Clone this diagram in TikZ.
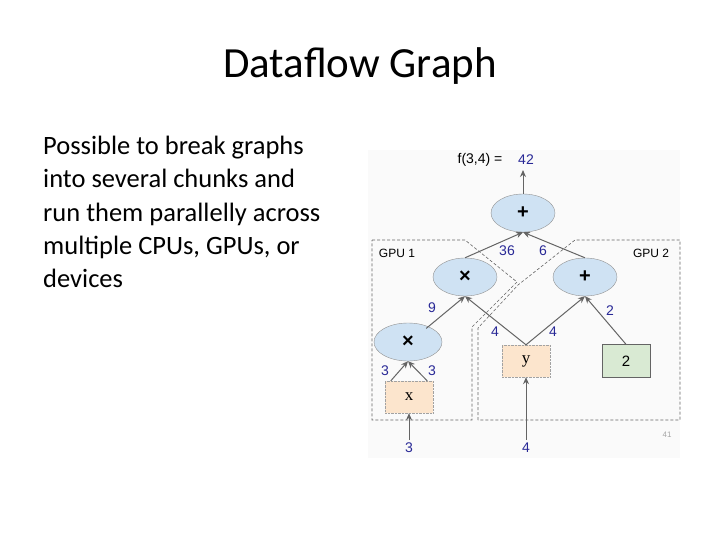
\documentclass[tikz,border=0pt]{standalone}
\usepackage{fontspec}
\setmainfont{Carlito}
\newfontfamily\dsans{Liberation Sans}
\newfontfamily\dserif{Liberation Serif}
\usetikzlibrary{shapes.geometric,arrows.meta}
\definecolor{ellfill}{RGB}{207,226,243}
\definecolor{peach}{RGB}{252,229,205}
\definecolor{mint}{RGB}{217,234,211}
\definecolor{navy}{RGB}{40,40,150}
\definecolor{edge}{RGB}{100,100,100}
\begin{document}
\begin{tikzpicture}[x=1pt,y=-1pt,
  op/.style={ellipse,draw=edge!70,fill=ellfill,minimum width=64pt,minimum height=38pt,inner sep=0pt,font=\dsans\fontsize{20}{20}\selectfont\bfseries},
  var/.style={draw=edge!60,densely dotted,fill=peach,minimum width=48pt,minimum height=32pt,font=\dserif\fontsize{17}{17}\selectfont},
  cst/.style={draw=edge,fill=mint,minimum width=48pt,minimum height=33pt,font=\dsans\fontsize{15}{15}\selectfont},
  num/.style={text=navy,font=\dsans\fontsize{14}{14}\selectfont},
  lbl/.style={font=\dsans\fontsize{12}{12}\selectfont},
  arr/.style={draw=edge,line width=1pt,-{Stealth[length=7pt,width=6pt]}},
  gpu/.style={draw=edge,densely dashed,line width=0.6pt}]
\useasboundingbox[fill=white] (0,0) rectangle (720,540);
\node[font=\fontsize{43}{46}\selectfont] (title) at (360,66) {Dataflow Graph};
\node[anchor=north west,align=left,font=\fontsize{26.5}{33.2}\selectfont,inner sep=0pt] (body) at (43,136)
 {Possible to break graphs\\into several chunks and\\run them parallelly across\\multiple CPUs, GPUs, or\\devices};
\fill[black!2] (368,150) rectangle (680,458);
\draw[gpu] (372,240) -- (465,240) -- (517,282) -- (472,327) -- (472,420) -- (372,420) -- cycle;
\draw[gpu] (478,420) -- (478,328) -- (518,285) -- (575,240) -- (680,240) -- (680,420) -- cycle;
\node[lbl] (g1) at (397,253) {GPU 1};
\node[lbl] (g2) at (651,253) {GPU 2};
\node[op] (top) at (523,213) {+};
\node[op] (m1) at (465,277) {×};
\node[op] (p2) at (585,277) {+};
\node[op,minimum width=68pt] (m2) at (408,342) {×};
\node[var] (x) at (409,397) {x};
\node[var] (y) at (526,361) {y};
\node[cst] (c2) at (626,361) {2};
\node[font=\dsans\fontsize{14}{14}\selectfont] (f) at (480,160) {f(3,4) =};
\node[num] (r) at (526,160) {42};
\node[num] (i3) at (409,448) {3};
\node[num] (i4) at (526,448) {4};
\node[font=\dsans\fontsize{8}{8}\selectfont,text=black!35] (pg) at (667,435) {41};
\coordinate (outc) at (523,170);
\draw[arr] (top.north) -- (outc);
\draw[arr] (m1.north) -- (top.south);
\draw[arr] (p2.north) -- (top.south);
\draw[arr] (m2.north east) ++(-6,0) coordinate (m2a) -- (m1.south);
\draw[arr] (y.north) -- (m1.south);
\draw[arr] (y.north) -- (p2.south);
\draw[arr] (c2.north) -- (p2.south);
\draw[arr] (x.north west) ++(6,0) coordinate (xa) -- (m2.south);
\draw[arr] (x.north east) ++(-6,0) coordinate (xb) -- (m2.south);
\draw[arr] (i3.north) -- (x.south);
\draw[arr] (i4.north) -- (y.south);
\node[num] (n36) at (507,251) {36};
\node[num] (n6) at (543,251) {6};
\node[num] (n9) at (432,308) {9};
\node[num] (n4a) at (495,332) {4};
\node[num] (n4b) at (553,332) {4};
\node[num] (n2) at (610,311) {2};
\node[num] (n3a) at (385,371) {3};
\node[num] (n3b) at (432,371) {3};
\end{tikzpicture}
\end{document}
